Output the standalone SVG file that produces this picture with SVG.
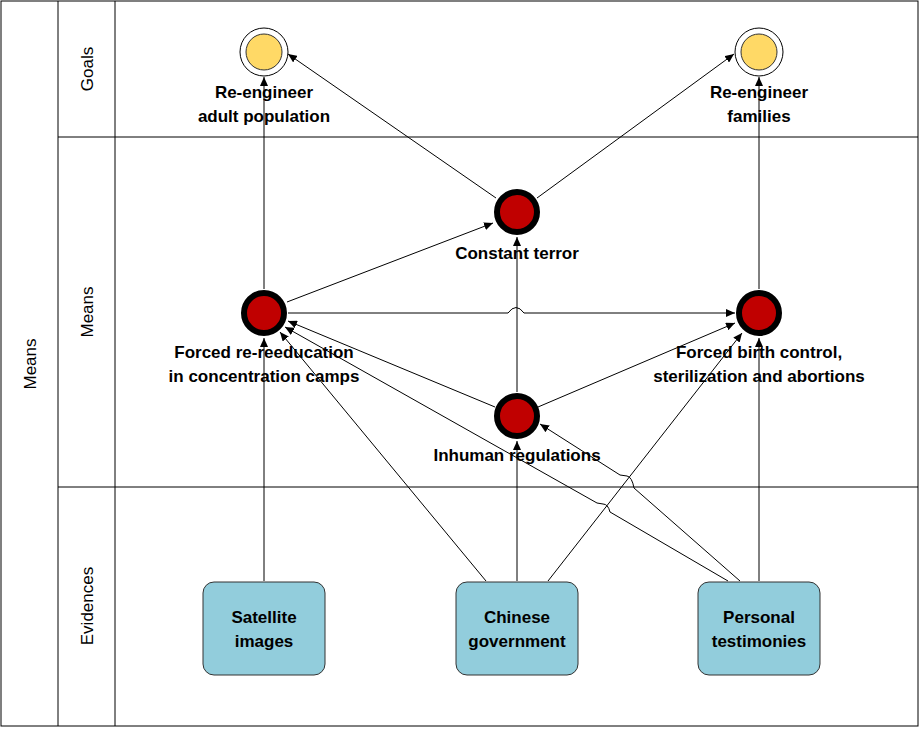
<svg xmlns="http://www.w3.org/2000/svg" width="921" height="729" viewBox="0 0 921 729">
<style>
.lane{fill:none;stroke:#000;stroke-width:1}
.lbl{font-family:"Liberation Sans",Arial,sans-serif;font-size:17px;fill:#000;text-anchor:middle}
.t{font-family:"Liberation Sans",Arial,sans-serif;font-size:17px;font-weight:bold;fill:#000;text-anchor:middle}
.goalO{fill:#fff;stroke:#000;stroke-width:1}
.goalI{fill:#FFD966;stroke:#333;stroke-width:1}
.mean{fill:#C00000;stroke:#000;stroke-width:6}
.box{fill:#92CDDC;stroke:#333;stroke-width:1}
.c{fill:none;stroke:#000;stroke-width:1;marker-end:url(#arr)}
</style>
<defs>
<marker id="arr" markerUnits="userSpaceOnUse" markerWidth="10" markerHeight="8" refX="9" refY="4" orient="auto">
<path d="M0,0 L9,4 L0,8 Z" fill="#000"/>
</marker>
</defs>
<rect x="0" y="0" width="921" height="729" fill="#fff"/>
<g id="pool">
<rect class="lane" x="1" y="1" width="917" height="725"/>
<line class="lane" x1="58" y1="1" x2="58" y2="726"/>
<line class="lane" x1="115" y1="1" x2="115" y2="726"/>
<line class="lane" x1="58" y1="137" x2="918" y2="137"/>
<line class="lane" x1="58" y1="487" x2="918" y2="487"/>
<text class="lbl" transform="translate(30,364) rotate(-90)" dominant-baseline="central">Means</text>
<text class="lbl" transform="translate(87,69) rotate(-90)" dominant-baseline="central">Goals</text>
<text class="lbl" transform="translate(87,312) rotate(-90)" dominant-baseline="central">Means</text>
<text class="lbl" transform="translate(87,606) rotate(-90)" dominant-baseline="central">Evidences</text>
</g>
<g id="connectors">
<path class="c" d="M264,581 L264,338"/>
<path class="c" d="M264,289 L264,77"/>
<path class="c" d="M287,302 L493,223"/>
<path class="c" d="M496,198 L288,54"/>
<path class="c" d="M537,198 L734,54"/>
<path class="c" d="M288,313 L508,313 Q516,302 524,313 L735,313"/>
<path class="c" d="M517,392 L517,237"/>
<path class="c" d="M495,407 L288,321"/>
<path class="c" d="M538,407 L735,323"/>
<path class="c" d="M759,289 L759,77"/>
<path class="c" d="M517,581 L517,441"/>
<path class="c" d="M486,581 L280,332"/>
<path class="c" d="M548,581 L742,333"/>
<path class="c" d="M759,581 L759,338"/>
<path class="c" d="M728,581 L610,512 Q608,504 603,504 L597,503 L285,327"/>
<path class="c" d="M740,581 L634,488 Q632,477 627,476 L620,475 L540,424"/>
</g>
<g id="goal-adult">
<circle class="goalO" cx="264" cy="52" r="24"/>
<circle class="goalI" cx="264" cy="52" r="18"/>
<text class="t" x="264" y="98">Re-engineer</text>
<text class="t" x="264" y="122">adult population</text>
</g>
<g id="goal-families">
<circle class="goalO" cx="759" cy="52" r="24"/>
<circle class="goalI" cx="759" cy="52" r="18"/>
<text class="t" x="759" y="98">Re-engineer</text>
<text class="t" x="759" y="122">families</text>
</g>
<g id="constant-terror">
<circle class="mean" cx="517" cy="212" r="20"/>
<text class="t" x="517" y="259">Constant terror</text>
</g>
<g id="reeducation">
<circle class="mean" cx="264" cy="313" r="20"/>
<text class="t" x="264" y="358">Forced re-reeducation</text>
<text class="t" x="264" y="382">in concentration camps</text>
</g>
<g id="birth-control">
<circle class="mean" cx="759" cy="313" r="20"/>
<text class="t" x="759" y="358">Forced birth control,</text>
<text class="t" x="759" y="382">sterilization and abortions</text>
</g>
<g id="inhuman">
<circle class="mean" cx="517" cy="416" r="20"/>
<text class="t" x="517" y="461">Inhuman regulations</text>
</g>
<g id="satellite">
<rect class="box" x="203" y="582" width="122" height="93" rx="11"/>
<text class="t" x="264" y="623">Satellite</text>
<text class="t" x="264" y="647">images</text>
</g>
<g id="chinese-gov">
<rect class="box" x="456" y="582" width="122" height="93" rx="11"/>
<text class="t" x="517" y="623">Chinese</text>
<text class="t" x="517" y="647">government</text>
</g>
<g id="testimonies">
<rect class="box" x="698" y="582" width="122" height="93" rx="11"/>
<text class="t" x="759" y="623">Personal</text>
<text class="t" x="759" y="647">testimonies</text>
</g>
</svg>
